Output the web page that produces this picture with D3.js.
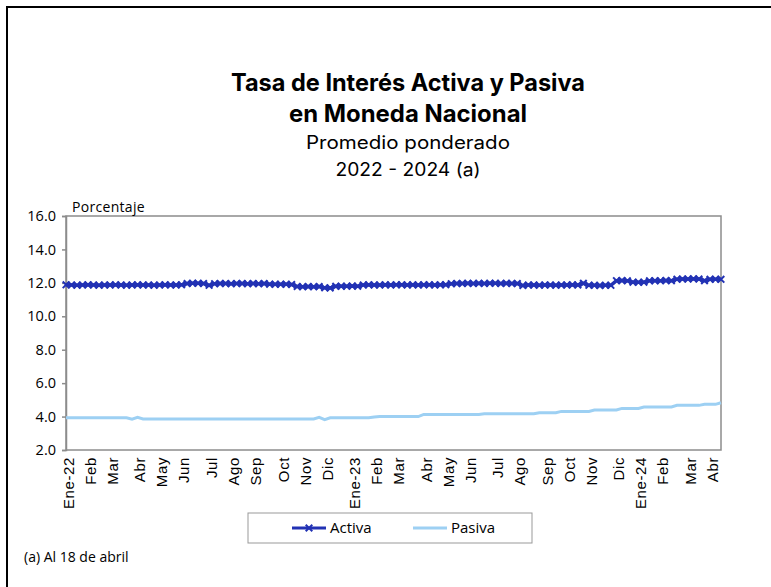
<!DOCTYPE html>
<html>
<head>
<meta charset="utf-8">
<script src="https://cdn.jsdelivr.net/npm/d3@7"></script>
<style>
  body { margin: 0; background: #fff; }
  svg { display: block; font-family: 'Open Sans', sans-serif; }
</style>
</head>
<body>
<div id="chart"></div>
<script>
// Weekly (Thursday) observations, Jan 2022 - 18 Apr 2024
const weeks = d3.utcThursday.range(new Date(Date.UTC(2022, 0, 6)), new Date(Date.UTC(2024, 3, 19)));

const monthLabels = ['Ene-22', 'Feb', 'Mar', 'Abr', 'May', 'Jun', 'Jul', 'Ago', 'Sep', 'Oct', 'Nov', 'Dic',
  'Ene-23', 'Feb', 'Mar', 'Abr', 'May', 'Jun', 'Jul', 'Ago', 'Sep', 'Oct', 'Nov', 'Dic',
  'Ene-24', 'Feb', 'Mar', 'Abr'];

const activa = [
  11.88, 11.87, 11.86, 11.87, 11.88, 11.87, 11.86, 11.87, 11.87, 11.88, 11.87, 11.86, 11.87, 11.88, 11.87, 11.87, 11.86, 11.87, 11.88, 11.87, 11.87, 11.88,
  11.96, 11.97, 11.97, 11.96,
  11.85,
  11.95, 11.96, 11.96, 11.95, 11.96, 11.96, 11.95, 11.96, 11.95, 11.96,
  11.92, 11.91, 11.91, 11.92, 11.90,
  11.78, 11.77, 11.78, 11.77, 11.78,
  11.70, 11.69,
  11.79, 11.80, 11.80, 11.81, 11.80,
  11.87, 11.88, 11.87, 11.87, 11.88, 11.87, 11.88, 11.88, 11.87, 11.88, 11.87, 11.88, 11.88, 11.87, 11.88, 11.89,
  11.95, 11.96, 11.96, 11.97, 11.96, 11.97, 11.96, 11.97, 11.97, 11.96, 11.97, 11.96, 11.96,
  11.84,
  11.87, 11.87, 11.86, 11.87, 11.87, 11.86, 11.87, 11.87, 11.88, 11.87,
  11.97,
  11.85, 11.85, 11.84, 11.85, 11.85,
  12.13, 12.14, 12.12,
  12.04, 12.03, 12.04,
  12.12, 12.13, 12.13, 12.14, 12.13,
  12.22, 12.23, 12.23, 12.24, 12.23,
  12.13,
  12.21, 12.22, 12.21
];

const pasiva = [
  3.93, 3.93, 3.93, 3.93, 3.93, 3.93, 3.93, 3.93, 3.93, 3.93, 3.93, 3.93,
  3.84,
  3.95,
  3.86, 3.86, 3.86, 3.86, 3.86, 3.86, 3.86, 3.86, 3.86, 3.86, 3.86, 3.86, 3.86, 3.86, 3.86, 3.86,
  3.86, 3.86, 3.86, 3.86, 3.86, 3.86, 3.86, 3.86, 3.86, 3.86, 3.86, 3.86, 3.86, 3.86, 3.86, 3.86,
  3.95,
  3.82,
  3.93, 3.93, 3.93, 3.93, 3.93, 3.93, 3.93, 3.93,
  3.98, 4.00, 4.00, 4.00, 4.00, 4.00, 4.00, 4.00, 4.00,
  4.13, 4.13, 4.13, 4.13, 4.13, 4.13, 4.13, 4.13, 4.13, 4.13, 4.13,
  4.17, 4.17, 4.17, 4.17, 4.17, 4.17, 4.17, 4.17, 4.17, 4.17,
  4.23, 4.23, 4.23, 4.23,
  4.31, 4.31, 4.31, 4.31, 4.31, 4.31,
  4.39, 4.39, 4.39, 4.39, 4.39,
  4.49, 4.49, 4.49, 4.49,
  4.57, 4.57, 4.57, 4.57, 4.57, 4.57,
  4.67, 4.67, 4.67, 4.67, 4.67,
  4.73, 4.73, 4.73,
  4.83
];

const yTicks = [2, 4, 6, 8, 10, 12, 14, 16];

const width = 771, height = 587;
const plot = { left: 66, right: 721, top: 216, bottom: 450 };
const colorActiva = '#2232b4';
const colorPasiva = '#9dd0f3';
const axisColor = '#8c8c8c';

const svg = d3.select('#chart').append('svg')
  .attr('width', width)
  .attr('height', height);

// outer frame
svg.append('rect')
  .attr('x', 7).attr('y', 7)
  .attr('width', 900).attr('height', 800)
  .attr('fill', 'none')
  .attr('stroke', '#000')
  .attr('stroke-width', 2);

// titles
const titles = [
  { text: 'Tasa de Interés Activa y Pasiva', y: 91, size: 24, weight: 700, len: 354 },
  { text: 'en Moneda Nacional', y: 122, size: 24, weight: 700, len: 238 },
  { text: 'Promedio ponderado', y: 149, size: 18, weight: 400, len: 204 },
  { text: '2022 - 2024 (a)', y: 176, size: 18, weight: 400, len: 145 }
];
svg.selectAll('.title')
  .data(titles)
  .enter()
  .append('text')
  .attr('class', 'title')
  .attr('x', 408)
  .attr('y', d => d.y)
  .attr('text-anchor', 'middle')
  .attr('font-family', 'Inter, sans-serif')
  .attr('font-size', d => d.size)
  .attr('font-weight', d => d.weight)
  .attr('textLength', d => d.len)
  .attr('lengthAdjust', 'spacingAndGlyphs')
  .attr('fill', '#000')
  .text(d => d.text);

const x = d3.scalePoint()
  .domain(d3.range(weeks.length))
  .range([plot.left, plot.right]);

const y = d3.scaleLinear()
  .domain([2, 16])
  .range([plot.bottom, plot.top]);

// plot border
svg.append('rect')
  .attr('x', plot.left).attr('y', plot.top)
  .attr('width', plot.right - plot.left)
  .attr('height', plot.bottom - plot.top)
  .attr('fill', 'none')
  .attr('stroke', axisColor)
  .attr('stroke-width', 1.5);

// y axis
const yAxis = d3.axisLeft(y)
  .tickValues(yTicks)
  .tickFormat(d3.format('.1f'))
  .tickSize(4)
  .tickPadding(6);

const gy = svg.append('g')
  .attr('class', 'y axis')
  .attr('transform', `translate(${plot.left},0)`)
  .call(yAxis);
gy.select('.domain').attr('stroke', axisColor).attr('stroke-width', 1.5);
gy.selectAll('.tick line').attr('stroke', axisColor).attr('stroke-width', 1.5);
gy.selectAll('.tick text')
  .attr('font-size', 14.5)
  .attr('font-family', "'Open Sans', sans-serif")
  .attr('fill', '#000');

svg.append('text')
  .attr('x', 72)
  .attr('y', 212)
  .attr('font-size', 14)
  .attr('letter-spacing', 0.3)
  .attr('fill', '#000')
  .text('Porcentaje');

// x axis: first week of each month
const monthStarts = d3.range(weeks.length)
  .filter(i => i === 0 || weeks[i].getUTCMonth() !== weeks[i - 1].getUTCMonth());

const xAxis = d3.axisBottom(x)
  .tickValues(monthStarts)
  .tickFormat((d, i) => monthLabels[i])
  .tickSize(0)
  .tickPadding(0);

const gx = svg.append('g')
  .attr('class', 'x axis')
  .attr('transform', `translate(2,${plot.bottom})`)
  .call(xAxis);
gx.select('.domain').remove();
gx.selectAll('.tick text')
  .attr('font-size', 15)
  .attr('letter-spacing', 0.6)
  .attr('fill', '#000')
  .attr('text-anchor', 'end')
  .attr('transform', 'rotate(-90)')
  .attr('x', -7)
  .attr('y', 0)
  .attr('dy', '0.36em');

// series
const line = d3.line()
  .x((d, i) => x(i))
  .y(d => y(d));

svg.append('path')
  .datum(pasiva)
  .attr('fill', 'none')
  .attr('stroke', colorPasiva)
  .attr('stroke-width', 3)
  .attr('d', line);

svg.append('path')
  .datum(activa)
  .attr('fill', 'none')
  .attr('stroke', colorActiva)
  .attr('stroke-width', 3.5)
  .attr('d', line);

const marker = d3.symbol().type(d3.symbolX).size(30);
svg.append('g')
  .selectAll('path')
  .data(activa)
  .enter()
  .append('path')
  .attr('transform', (d, i) => `translate(${x(i)},${y(d)})`)
  .attr('d', marker)
  .attr('fill', 'none')
  .attr('stroke', colorActiva)
  .attr('stroke-width', 2);

// legend
const legend = svg.append('g').attr('class', 'legend');
legend.append('rect')
  .attr('x', 248).attr('y', 513)
  .attr('width', 284).attr('height', 30)
  .attr('fill', '#fff')
  .attr('stroke', '#999')
  .attr('stroke-width', 1);

const legendItems = [
  { name: 'Activa', color: colorActiva, x: 292, marker: true },
  { name: 'Pasiva', color: colorPasiva, x: 413, marker: false }
];
legendItems.forEach(item => {
  legend.append('line')
    .attr('x1', item.x).attr('x2', item.x + 34)
    .attr('y1', 528).attr('y2', 528)
    .attr('stroke', item.color)
    .attr('stroke-width', 3);
  if (item.marker) {
    legend.append('path')
      .attr('transform', `translate(${item.x + 17},528)`)
      .attr('d', d3.symbol().type(d3.symbolX).size(30))
      .attr('fill', 'none')
      .attr('stroke', item.color)
      .attr('stroke-width', 2);
  }
  legend.append('text')
    .attr('x', item.x + 38)
    .attr('y', 533)
    .attr('font-size', 15)
    .attr('fill', '#000')
    .text(item.name);
});

// footnote
svg.append('text')
  .attr('x', 24)
  .attr('y', 562)
  .attr('font-size', 14)
  .attr('fill', '#000')
  .text('(a) Al 18 de abril');
</script>
</body>
</html>
